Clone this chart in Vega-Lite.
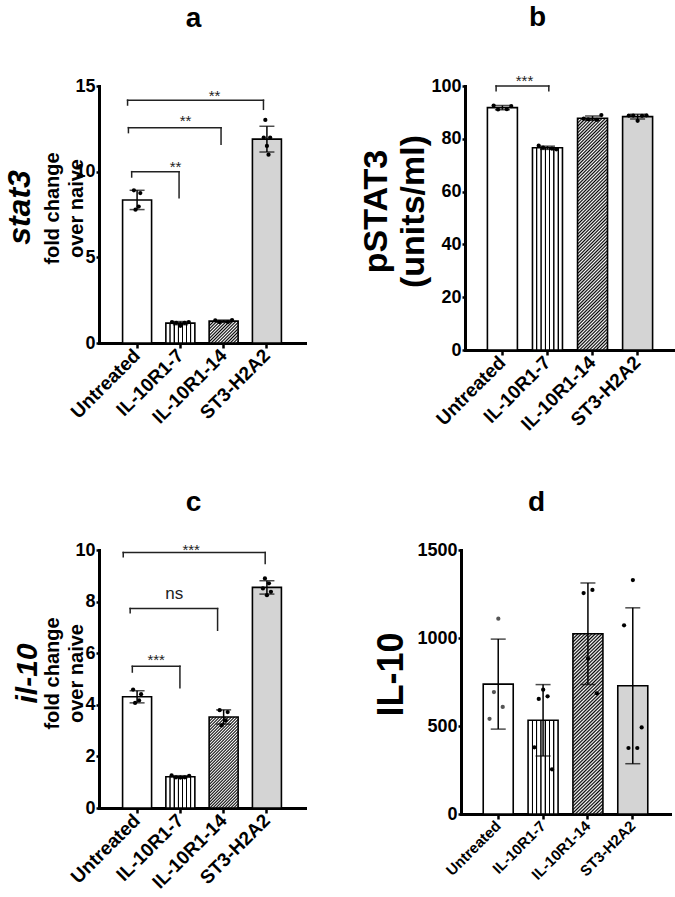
{
"$schema":"https://vega.github.io/schema/vega-lite/v6.json",
"background":"white",
"padding":{"left":3,"top":3,"right":5,"bottom":2},
"config":{
 "view":{"stroke":null},
 "font":"Liberation Sans",
 "axis":{"labelFont":"Liberation Sans","titleFont":"Liberation Sans","labelFontWeight":"bold","titleFontWeight":"bold","labelColor":"black","titleColor":"black","domainColor":"black","tickColor":"black","domainWidth":3,"tickWidth":2.5,"grid":false,"labelFontSize":18,"labelOverlap":false,"labelFlush":false,"domainCap":"square","labelPadding":3},
 "axisX":{"tickSize":5,"labelAngle":-45,"labelAlign":"right","labelBaseline":"middle","labelPadding":4},
 "axisY":{"tickSize":3,"labelPadding":1}
},
"datasets":{
 "a":[
  {"g":"Untreated","rep":1,"v":8.91},{"g":"Untreated","rep":2,"v":7.78},{"g":"Untreated","rep":4,"v":7.96},{"g":"Untreated","rep":5,"v":8.75},
  {"g":"IL-10R1-7","rep":1,"v":1.22},{"g":"IL-10R1-7","rep":2,"v":1.18},{"g":"IL-10R1-7","rep":3,"v":1.0},{"g":"IL-10R1-7","rep":4,"v":1.18},{"g":"IL-10R1-7","rep":5,"v":1.22},
  {"g":"IL-10R1-14","rep":1,"v":1.32},{"g":"IL-10R1-14","rep":2,"v":1.22},{"g":"IL-10R1-14","rep":4,"v":1.22},{"g":"IL-10R1-14","rep":5,"v":1.34},
  {"g":"ST3-H2A2","rep":1,"v":11.99},{"g":"ST3-H2A2","rep":2,"v":13.02},{"g":"ST3-H2A2","rep":3,"v":11.5},{"g":"ST3-H2A2","rep":4,"v":10.99},{"g":"ST3-H2A2","rep":5,"v":11.99}
 ],
 "b":[
  {"g":"Untreated","rep":1,"v":92.6},{"g":"Untreated","rep":2,"v":91.1},{"g":"Untreated","rep":4,"v":91.2},{"g":"Untreated","rep":5,"v":92.4},
  {"g":"IL-10R1-7","rep":1,"v":77.4},{"g":"IL-10R1-7","rep":2,"v":76.7},{"g":"IL-10R1-7","rep":4,"v":76.3},{"g":"IL-10R1-7","rep":5,"v":76.0},
  {"g":"IL-10R1-14","rep":1,"v":87.6},{"g":"IL-10R1-14","rep":2,"v":87.4},{"g":"IL-10R1-14","rep":4,"v":87.2},{"g":"IL-10R1-14","rep":5,"v":89.0},
  {"g":"ST3-H2A2","rep":1,"v":88.8},{"g":"ST3-H2A2","rep":2,"v":88.8},{"g":"ST3-H2A2","rep":3,"v":86.8},{"g":"ST3-H2A2","rep":4,"v":88.7},{"g":"ST3-H2A2","rep":5,"v":88.9}
 ],
 "c":[
  {"g":"Untreated","rep":1,"v":4.59},{"g":"Untreated","rep":2,"v":4.07},{"g":"Untreated","rep":4,"v":4.17},{"g":"Untreated","rep":5,"v":4.41},
  {"g":"IL-10R1-7","rep":1,"v":1.26},{"g":"IL-10R1-7","rep":2,"v":1.19},{"g":"IL-10R1-7","rep":3,"v":1.18},{"g":"IL-10R1-7","rep":4,"v":1.19},{"g":"IL-10R1-7","rep":5,"v":1.25},
  {"g":"IL-10R1-14","rep":1,"v":3.79},{"g":"IL-10R1-14","rep":2,"v":3.2},{"g":"IL-10R1-14","rep":4,"v":3.4},{"g":"IL-10R1-14","rep":5,"v":3.72},
  {"g":"ST3-H2A2","rep":1,"v":8.51},{"g":"ST3-H2A2","rep":2,"v":8.9},{"g":"ST3-H2A2","rep":3,"v":8.25},{"g":"ST3-H2A2","rep":4,"v":8.71},{"g":"ST3-H2A2","rep":5,"v":8.38}
 ],
 "d":[
  {"g":"Untreated","rep":1,"v":541},{"g":"Untreated","rep":2,"v":693},{"g":"Untreated","rep":3,"v":1110},{"g":"Untreated","rep":4,"v":608},
  {"g":"IL-10R1-7","rep":1,"v":379},{"g":"IL-10R1-7","rep":2,"v":654},{"g":"IL-10R1-7","rep":3,"v":706},{"g":"IL-10R1-7","rep":4,"v":669},{"g":"IL-10R1-7","rep":5,"v":254},
  {"g":"IL-10R1-14","rep":2,"v":1255},{"g":"IL-10R1-14","rep":3,"v":883},{"g":"IL-10R1-14","rep":4,"v":1273},{"g":"IL-10R1-14","rep":5,"v":686},
  {"g":"ST3-H2A2","rep":1,"v":1072},{"g":"ST3-H2A2","rep":2,"v":375},{"g":"ST3-H2A2","rep":3,"v":1329},{"g":"ST3-H2A2","rep":4,"v":375},{"g":"ST3-H2A2","rep":5,"v":492}
 ],
 "ba":[
  {"x1":0.875,"x2":1.97,"y":10.0,"yl1":9.69,"yl2":8.48,"label":"**","lx":1.89,"ly":9.99},
  {"x1":0.8,"x2":2.94,"y":12.57,"yl1":12.28,"yl2":11.6,"label":"**","lx":2.12,"ly":12.69},
  {"x1":0.78,"x2":3.92,"y":14.17,"yl1":13.89,"yl2":13.64,"label":"**","lx":2.79,"ly":14.1}
 ],
 "bb":[
  {"x1":0.86,"x2":2.03,"y":100,"yl1":98.2,"yl2":98.2,"label":"***","lx":1.49,"ly":100.0}
 ],
 "bc":[
  {"x1":0.89,"x2":1.99,"y":5.49,"yl1":5.27,"yl2":4.66,"label":"***","lx":1.44,"ly":5.54},
  {"x1":0.84,"x2":2.86,"y":7.73,"yl1":7.57,"yl2":6.89,"label":"ns","lx":1.86,"ly":8.1},
  {"x1":0.68,"x2":3.96,"y":9.9,"yl1":9.74,"yl2":9.48,"label":"***","lx":2.25,"ly":9.79}
 ]
},
"vconcat":[
{"hconcat":[
{
 "width":206,"height":257,
 "layer":[
  {"data":{"name":"a"},
   "layer":[
    {"mark":{"type":"bar","stroke":"black","strokeWidth":1.6,"width":29},
     "encoding":{
      "x":{"field":"g","type":"nominal","sort":null,"scale":{"type":"band","domain":["Untreated","IL-10R1-7","IL-10R1-14","ST3-H2A2"],"paddingInner":0.34,"paddingOuter":0.55},"axis":{"title":null,"labelFontSize":19}},
      "y":{"aggregate":"mean","field":"v","type":"quantitative","scale":{"domain":[0,15],"nice":false},"axis":{"title":["fold change","over naive"],"titleFontSize":20,"titleLineHeight":24,"titlePadding":-12,"titleY":122,"values":[0,5,10,15]}},
      "fill":{"condition":[
        {"test":"datum.g === 'Untreated'","value":"#ffffff"},
        {"test":"datum.g === 'IL-10R1-7'","value":{"gradient":"linear","x1":0,"y1":0,"x2":1,"y2":0,"stops":[{"offset":0.113,"color":"#fff"},{"offset":0.131,"color":"#000"},{"offset":0.155,"color":"#000"},{"offset":0.173,"color":"#fff"},{"offset":0.256,"color":"#fff"},{"offset":0.274,"color":"#000"},{"offset":0.298,"color":"#000"},{"offset":0.316,"color":"#fff"},{"offset":0.399,"color":"#fff"},{"offset":0.417,"color":"#000"},{"offset":0.441,"color":"#000"},{"offset":0.459,"color":"#fff"},{"offset":0.541,"color":"#fff"},{"offset":0.559,"color":"#000"},{"offset":0.583,"color":"#000"},{"offset":0.601,"color":"#fff"},{"offset":0.684,"color":"#fff"},{"offset":0.702,"color":"#000"},{"offset":0.726,"color":"#000"},{"offset":0.744,"color":"#fff"},{"offset":0.827,"color":"#fff"},{"offset":0.845,"color":"#000"},{"offset":0.869,"color":"#000"},{"offset":0.887,"color":"#fff"}]}},
        {"test":"datum.g === 'IL-10R1-14'","value":{"gradient":"linear","x1":0,"y1":0,"x2":1.119,"y2":0.843,"stops":[{"offset":0,"color":"#fff"},{"offset":0.03125,"color":"#000"},{"offset":0.0625,"color":"#fff"},{"offset":0.09375,"color":"#000"},{"offset":0.125,"color":"#fff"},{"offset":0.15625,"color":"#000"},{"offset":0.1875,"color":"#fff"},{"offset":0.21875,"color":"#000"},{"offset":0.25,"color":"#fff"},{"offset":0.28125,"color":"#000"},{"offset":0.3125,"color":"#fff"},{"offset":0.34375,"color":"#000"},{"offset":0.375,"color":"#fff"},{"offset":0.40625,"color":"#000"},{"offset":0.4375,"color":"#fff"},{"offset":0.46875,"color":"#000"},{"offset":0.5,"color":"#fff"},{"offset":0.53125,"color":"#000"},{"offset":0.5625,"color":"#fff"},{"offset":0.59375,"color":"#000"},{"offset":0.625,"color":"#fff"},{"offset":0.65625,"color":"#000"},{"offset":0.6875,"color":"#fff"},{"offset":0.71875,"color":"#000"},{"offset":0.75,"color":"#fff"},{"offset":0.78125,"color":"#000"},{"offset":0.8125,"color":"#fff"},{"offset":0.84375,"color":"#000"},{"offset":0.875,"color":"#fff"},{"offset":0.90625,"color":"#000"},{"offset":0.9375,"color":"#fff"},{"offset":0.96875,"color":"#000"},{"offset":1,"color":"#fff"}]}}
       ],"value":"#d4d4d4"}
     }},
    {"mark":{"type":"errorbar","extent":"stdev","ticks":true,"size":15,"thickness":1.5,"color":"black"},
     "encoding":{
      "x":{"field":"g","type":"nominal","sort":null,"scale":{"type":"band","domain":["Untreated","IL-10R1-7","IL-10R1-14","ST3-H2A2"],"paddingInner":0.34,"paddingOuter":0.55}},
      "y":{"field":"v","type":"quantitative","scale":{"domain":[0,15],"nice":false},"axis":{"title":["fold change","over naive"]}}}},
    {"transform":[{"filter":{"field":"g","oneOf":["IL-10R1-7","IL-10R1-14"]}}],
     "mark":{"type":"circle","size":18,"color":"black","opacity":1},
     "encoding":{
      "x":{"field":"g","type":"nominal","sort":null,"scale":{"type":"band","domain":["Untreated","IL-10R1-7","IL-10R1-14","ST3-H2A2"],"paddingInner":0.34,"paddingOuter":0.55}},
      "xOffset":{"field":"rep","type":"ordinal","scale":{"type":"point","domain":[1,2,3,4,5],"range":[3.8,24.8]}},
      "y":{"field":"v","type":"quantitative","scale":{"domain":[0,15],"nice":false},"axis":{"title":["fold change","over naive"]}}}},
    {"transform":[{"filter":{"field":"g","oneOf":["Untreated","ST3-H2A2"]}}],
     "mark":{"type":"circle","size":18,"color":"black","opacity":1},
     "encoding":{
      "x":{"field":"g","type":"nominal","sort":null,"scale":{"type":"band","domain":["Untreated","IL-10R1-7","IL-10R1-14","ST3-H2A2"],"paddingInner":0.34,"paddingOuter":0.55}},
      "xOffset":{"field":"rep","type":"ordinal","scale":{"type":"point","domain":[1,2,3,4,5],"range":[10.3,18.3]}},
      "y":{"field":"v","type":"quantitative","scale":{"domain":[0,15],"nice":false},"axis":{"title":["fold change","over naive"]}}}}
   ],
   "resolve":{"scale":{"xOffset":"independent"}}
  },
  {"data":{"name":"ba"},
   "layer":[
    {"mark":{"type":"rule","strokeWidth":1.5,"color":"#222","strokeCap":"square"},
     "encoding":{
      "x":{"field":"x1","type":"quantitative","scale":{"domain":[0.12,4.88],"nice":false,"zero":false},"axis":{"orient":"top","title":"a","titleFontSize":28,"titleBaseline":"alphabetic","titleAlign":"center","titleX":94,"titlePadding":60,"labels":false,"ticks":false,"domain":false}},
      "x2":{"field":"x2"},
      "y":{"field":"y","type":"quantitative","scale":{"domain":[0,15],"nice":false},"axis":{"orient":"left","title":"stat3","titleFontSize":32,"titleFontStyle":"italic","labels":false,"ticks":false,"domain":false,"titlePadding":63,"titleY":121}}}},
    {"mark":{"type":"rule","strokeWidth":1.5,"color":"#222","strokeCap":"square"},
     "encoding":{
      "x":{"field":"x1","type":"quantitative","scale":{"domain":[0.12,4.88],"nice":false,"zero":false}},
      "y":{"field":"y","type":"quantitative","scale":{"domain":[0,15],"nice":false}},
      "y2":{"field":"yl1"}}},
    {"mark":{"type":"rule","strokeWidth":1.5,"color":"#222","strokeCap":"square"},
     "encoding":{
      "x":{"field":"x2","type":"quantitative","scale":{"domain":[0.12,4.88],"nice":false,"zero":false}},
      "y":{"field":"y","type":"quantitative","scale":{"domain":[0,15],"nice":false}},
      "y2":{"field":"yl2"}}},
    {"mark":{"type":"text","fontSize":15,"baseline":"alphabetic","color":"#222"},
     "encoding":{
      "x":{"field":"lx","type":"quantitative","scale":{"domain":[0.12,4.88],"nice":false,"zero":false}},
      "y":{"field":"ly","type":"quantitative","scale":{"domain":[0,15],"nice":false}},
      "text":{"field":"label"}}}
   ]
  }
 ],
 "resolve":{"scale":{"x":"independent"},"axis":{"y":"independent"}}
},
{
 "width":210,"height":264,
 "layer":[
  {"data":{"name":"b"},
   "layer":[
    {"mark":{"type":"bar","stroke":"black","strokeWidth":1.6,"width":30},
     "encoding":{
      "x":{"field":"g","type":"nominal","sort":null,"scale":{"type":"band","domain":["Untreated","IL-10R1-7","IL-10R1-14","ST3-H2A2"],"paddingInner":0.34,"paddingOuter":0.5},"axis":{"title":null,"labelFontSize":19}},
      "y":{"aggregate":"mean","field":"v","type":"quantitative","scale":{"domain":[0,100],"nice":false},"axis":{"title":["pSTAT3","(units/ml)"],"titleFontSize":34,"titleLineHeight":37,"titlePadding":0,"titleY":125,"values":[0,20,40,60,80,100]}},
      "fill":{"condition":[
        {"test":"datum.g === 'Untreated'","value":"#ffffff"},
        {"test":"datum.g === 'IL-10R1-7'","value":{"gradient":"linear","x1":0,"y1":0,"x2":1,"y2":0,"stops":[{"offset":0.113,"color":"#fff"},{"offset":0.131,"color":"#000"},{"offset":0.155,"color":"#000"},{"offset":0.173,"color":"#fff"},{"offset":0.256,"color":"#fff"},{"offset":0.274,"color":"#000"},{"offset":0.298,"color":"#000"},{"offset":0.316,"color":"#fff"},{"offset":0.399,"color":"#fff"},{"offset":0.417,"color":"#000"},{"offset":0.441,"color":"#000"},{"offset":0.459,"color":"#fff"},{"offset":0.541,"color":"#fff"},{"offset":0.559,"color":"#000"},{"offset":0.583,"color":"#000"},{"offset":0.601,"color":"#fff"},{"offset":0.684,"color":"#fff"},{"offset":0.702,"color":"#000"},{"offset":0.726,"color":"#000"},{"offset":0.744,"color":"#fff"},{"offset":0.827,"color":"#fff"},{"offset":0.845,"color":"#000"},{"offset":0.869,"color":"#000"},{"offset":0.887,"color":"#fff"}]}},
        {"test":"datum.g === 'IL-10R1-14'","value":{"gradient":"linear","x1":0,"y1":0,"x2":0.1424,"y2":1.11,"stops":[
{"offset":0,"color":"#fff"},{"offset":0.00625,"color":"#000"},{"offset":0.0125,"color":"#fff"},{"offset":0.01875,"color":"#000"},{"offset":0.025,"color":"#fff"},{"offset":0.03125,"color":"#000"},{"offset":0.0375,"color":"#fff"},{"offset":0.04375,"color":"#000"},{"offset":0.05,"color":"#fff"},{"offset":0.05625,"color":"#000"},{"offset":0.0625,"color":"#fff"},{"offset":0.06875,"color":"#000"},{"offset":0.075,"color":"#fff"},{"offset":0.08125,"color":"#000"},{"offset":0.0875,"color":"#fff"},{"offset":0.09375,"color":"#000"},
{"offset":0.1,"color":"#fff"},{"offset":0.10625,"color":"#000"},{"offset":0.1125,"color":"#fff"},{"offset":0.11875,"color":"#000"},{"offset":0.125,"color":"#fff"},{"offset":0.13125,"color":"#000"},{"offset":0.1375,"color":"#fff"},{"offset":0.14375,"color":"#000"},{"offset":0.15,"color":"#fff"},{"offset":0.15625,"color":"#000"},{"offset":0.1625,"color":"#fff"},{"offset":0.16875,"color":"#000"},{"offset":0.175,"color":"#fff"},{"offset":0.18125,"color":"#000"},{"offset":0.1875,"color":"#fff"},{"offset":0.19375,"color":"#000"},
{"offset":0.2,"color":"#fff"},{"offset":0.20625,"color":"#000"},{"offset":0.2125,"color":"#fff"},{"offset":0.21875,"color":"#000"},{"offset":0.225,"color":"#fff"},{"offset":0.23125,"color":"#000"},{"offset":0.2375,"color":"#fff"},{"offset":0.24375,"color":"#000"},{"offset":0.25,"color":"#fff"},{"offset":0.25625,"color":"#000"},{"offset":0.2625,"color":"#fff"},{"offset":0.26875,"color":"#000"},{"offset":0.275,"color":"#fff"},{"offset":0.28125,"color":"#000"},{"offset":0.2875,"color":"#fff"},{"offset":0.29375,"color":"#000"},
{"offset":0.3,"color":"#fff"},{"offset":0.30625,"color":"#000"},{"offset":0.3125,"color":"#fff"},{"offset":0.31875,"color":"#000"},{"offset":0.325,"color":"#fff"},{"offset":0.33125,"color":"#000"},{"offset":0.3375,"color":"#fff"},{"offset":0.34375,"color":"#000"},{"offset":0.35,"color":"#fff"},{"offset":0.35625,"color":"#000"},{"offset":0.3625,"color":"#fff"},{"offset":0.36875,"color":"#000"},{"offset":0.375,"color":"#fff"},{"offset":0.38125,"color":"#000"},{"offset":0.3875,"color":"#fff"},{"offset":0.39375,"color":"#000"},
{"offset":0.4,"color":"#fff"},{"offset":0.40625,"color":"#000"},{"offset":0.4125,"color":"#fff"},{"offset":0.41875,"color":"#000"},{"offset":0.425,"color":"#fff"},{"offset":0.43125,"color":"#000"},{"offset":0.4375,"color":"#fff"},{"offset":0.44375,"color":"#000"},{"offset":0.45,"color":"#fff"},{"offset":0.45625,"color":"#000"},{"offset":0.4625,"color":"#fff"},{"offset":0.46875,"color":"#000"},{"offset":0.475,"color":"#fff"},{"offset":0.48125,"color":"#000"},{"offset":0.4875,"color":"#fff"},{"offset":0.49375,"color":"#000"},
{"offset":0.5,"color":"#fff"},{"offset":0.50625,"color":"#000"},{"offset":0.5125,"color":"#fff"},{"offset":0.51875,"color":"#000"},{"offset":0.525,"color":"#fff"},{"offset":0.53125,"color":"#000"},{"offset":0.5375,"color":"#fff"},{"offset":0.54375,"color":"#000"},{"offset":0.55,"color":"#fff"},{"offset":0.55625,"color":"#000"},{"offset":0.5625,"color":"#fff"},{"offset":0.56875,"color":"#000"},{"offset":0.575,"color":"#fff"},{"offset":0.58125,"color":"#000"},{"offset":0.5875,"color":"#fff"},{"offset":0.59375,"color":"#000"},
{"offset":0.6,"color":"#fff"},{"offset":0.60625,"color":"#000"},{"offset":0.6125,"color":"#fff"},{"offset":0.61875,"color":"#000"},{"offset":0.625,"color":"#fff"},{"offset":0.63125,"color":"#000"},{"offset":0.6375,"color":"#fff"},{"offset":0.64375,"color":"#000"},{"offset":0.65,"color":"#fff"},{"offset":0.65625,"color":"#000"},{"offset":0.6625,"color":"#fff"},{"offset":0.66875,"color":"#000"},{"offset":0.675,"color":"#fff"},{"offset":0.68125,"color":"#000"},{"offset":0.6875,"color":"#fff"},{"offset":0.69375,"color":"#000"},
{"offset":0.7,"color":"#fff"},{"offset":0.70625,"color":"#000"},{"offset":0.7125,"color":"#fff"},{"offset":0.71875,"color":"#000"},{"offset":0.725,"color":"#fff"},{"offset":0.73125,"color":"#000"},{"offset":0.7375,"color":"#fff"},{"offset":0.74375,"color":"#000"},{"offset":0.75,"color":"#fff"},{"offset":0.75625,"color":"#000"},{"offset":0.7625,"color":"#fff"},{"offset":0.76875,"color":"#000"},{"offset":0.775,"color":"#fff"},{"offset":0.78125,"color":"#000"},{"offset":0.7875,"color":"#fff"},{"offset":0.79375,"color":"#000"},
{"offset":0.8,"color":"#fff"},{"offset":0.80625,"color":"#000"},{"offset":0.8125,"color":"#fff"},{"offset":0.81875,"color":"#000"},{"offset":0.825,"color":"#fff"},{"offset":0.83125,"color":"#000"},{"offset":0.8375,"color":"#fff"},{"offset":0.84375,"color":"#000"},{"offset":0.85,"color":"#fff"},{"offset":0.85625,"color":"#000"},{"offset":0.8625,"color":"#fff"},{"offset":0.86875,"color":"#000"},{"offset":0.875,"color":"#fff"},{"offset":0.88125,"color":"#000"},{"offset":0.8875,"color":"#fff"},{"offset":0.89375,"color":"#000"},
{"offset":0.9,"color":"#fff"},{"offset":0.90625,"color":"#000"},{"offset":0.9125,"color":"#fff"},{"offset":0.91875,"color":"#000"},{"offset":0.925,"color":"#fff"},{"offset":0.93125,"color":"#000"},{"offset":0.9375,"color":"#fff"},{"offset":0.94375,"color":"#000"},{"offset":0.95,"color":"#fff"},{"offset":0.95625,"color":"#000"},{"offset":0.9625,"color":"#fff"},{"offset":0.96875,"color":"#000"},{"offset":0.975,"color":"#fff"},{"offset":0.98125,"color":"#000"},{"offset":0.9875,"color":"#fff"},{"offset":0.99375,"color":"#000"},
{"offset":1,"color":"#fff"}]}}
       ],"value":"#d4d4d4"}
     }},
    {"mark":{"type":"errorbar","extent":"stdev","ticks":true,"size":15,"thickness":1.5,"color":"black"},
     "encoding":{
      "x":{"field":"g","type":"nominal","sort":null,"scale":{"type":"band","domain":["Untreated","IL-10R1-7","IL-10R1-14","ST3-H2A2"],"paddingInner":0.34,"paddingOuter":0.5}},
      "y":{"field":"v","type":"quantitative","scale":{"domain":[0,100],"nice":false},"axis":{"title":["pSTAT3","(units/ml)"]}}}},
    {"mark":{"type":"circle","size":18,"color":"black","opacity":1},
     "encoding":{
      "x":{"field":"g","type":"nominal","sort":null,"scale":{"type":"band","domain":["Untreated","IL-10R1-7","IL-10R1-14","ST3-H2A2"],"paddingInner":0.34,"paddingOuter":0.5}},
      "xOffset":{"field":"rep","type":"ordinal","scale":{"type":"point","domain":[1,2,3,4,5],"range":[3.9,25.9]}},
      "y":{"field":"v","type":"quantitative","scale":{"domain":[0,100],"nice":false},"axis":{"title":["pSTAT3","(units/ml)"]}}}}
   ]
  },
  {"data":{"name":"bb"},
   "layer":[
    {"mark":{"type":"rule","strokeWidth":1.5,"color":"#222","strokeCap":"square"},
     "encoding":{
      "x":{"field":"x1","type":"quantitative","scale":{"domain":[0.17,4.83],"nice":false,"zero":false},"axis":{"orient":"top","title":"b","titleFontSize":28,"titleBaseline":"alphabetic","titleAlign":"center","titleX":72,"titlePadding":61,"labels":false,"ticks":false,"domain":false}},
      "x2":{"field":"x2"},
      "y":{"field":"y","type":"quantitative","scale":{"domain":[0,100],"nice":false},"axis":{"title":["pSTAT3","(units/ml)"]}}}},
    {"mark":{"type":"rule","strokeWidth":1.5,"color":"#222","strokeCap":"square"},
     "encoding":{
      "x":{"field":"x1","type":"quantitative","scale":{"domain":[0.17,4.83],"nice":false,"zero":false}},
      "y":{"field":"y","type":"quantitative","scale":{"domain":[0,100],"nice":false},"axis":{"title":["pSTAT3","(units/ml)"]}},
      "y2":{"field":"yl1"}}},
    {"mark":{"type":"rule","strokeWidth":1.5,"color":"#222","strokeCap":"square"},
     "encoding":{
      "x":{"field":"x2","type":"quantitative","scale":{"domain":[0.17,4.83],"nice":false,"zero":false}},
      "y":{"field":"y","type":"quantitative","scale":{"domain":[0,100],"nice":false},"axis":{"title":["pSTAT3","(units/ml)"]}},
      "y2":{"field":"yl2"}}},
    {"mark":{"type":"text","fontSize":15,"baseline":"alphabetic","color":"#222"},
     "encoding":{
      "x":{"field":"lx","type":"quantitative","scale":{"domain":[0.17,4.83],"nice":false,"zero":false}},
      "y":{"field":"ly","type":"quantitative","scale":{"domain":[0,100],"nice":false},"axis":{"title":["pSTAT3","(units/ml)"]}},
      "text":{"field":"label"}}}
   ]
  }
 ],
 "resolve":{"scale":{"x":"independent"}}
}
],"spacing":54},
{"hconcat":[
{
 "width":206,"height":258,
 "layer":[
  {"data":{"name":"c"},
   "layer":[
    {"mark":{"type":"bar","stroke":"black","strokeWidth":1.6,"width":29},
     "encoding":{
      "x":{"field":"g","type":"nominal","sort":null,"scale":{"type":"band","domain":["Untreated","IL-10R1-7","IL-10R1-14","ST3-H2A2"],"paddingInner":0.34,"paddingOuter":0.55},"axis":{"title":null,"labelFontSize":19}},
      "y":{"aggregate":"mean","field":"v","type":"quantitative","scale":{"domain":[0,10],"nice":false},"axis":{"title":["fold change","over naive"],"titleFontSize":20,"titleLineHeight":24,"titlePadding":-12,"titleY":123,"values":[0,2,4,6,8,10]}},
      "fill":{"condition":[
        {"test":"datum.g === 'Untreated'","value":"#ffffff"},
        {"test":"datum.g === 'IL-10R1-7'","value":{"gradient":"linear","x1":0,"y1":0,"x2":1,"y2":0,"stops":[{"offset":0.113,"color":"#fff"},{"offset":0.131,"color":"#000"},{"offset":0.155,"color":"#000"},{"offset":0.173,"color":"#fff"},{"offset":0.256,"color":"#fff"},{"offset":0.274,"color":"#000"},{"offset":0.298,"color":"#000"},{"offset":0.316,"color":"#fff"},{"offset":0.399,"color":"#fff"},{"offset":0.417,"color":"#000"},{"offset":0.441,"color":"#000"},{"offset":0.459,"color":"#fff"},{"offset":0.541,"color":"#fff"},{"offset":0.559,"color":"#000"},{"offset":0.583,"color":"#000"},{"offset":0.601,"color":"#fff"},{"offset":0.684,"color":"#fff"},{"offset":0.702,"color":"#000"},{"offset":0.726,"color":"#000"},{"offset":0.744,"color":"#fff"},{"offset":0.827,"color":"#fff"},{"offset":0.845,"color":"#000"},{"offset":0.869,"color":"#000"},{"offset":0.887,"color":"#fff"}]}},
        {"test":"datum.g === 'IL-10R1-14'","value":{"gradient":"linear","x1":0,"y1":0,"x2":0.384,"y2":1.198,"stops":[
{"offset":0,"color":"#fff"},{"offset":0.0125,"color":"#000"},{"offset":0.025,"color":"#fff"},{"offset":0.0375,"color":"#000"},{"offset":0.05,"color":"#fff"},{"offset":0.0625,"color":"#000"},{"offset":0.075,"color":"#fff"},{"offset":0.0875,"color":"#000"},
{"offset":0.1,"color":"#fff"},{"offset":0.1125,"color":"#000"},{"offset":0.125,"color":"#fff"},{"offset":0.1375,"color":"#000"},{"offset":0.15,"color":"#fff"},{"offset":0.1625,"color":"#000"},{"offset":0.175,"color":"#fff"},{"offset":0.1875,"color":"#000"},
{"offset":0.2,"color":"#fff"},{"offset":0.2125,"color":"#000"},{"offset":0.225,"color":"#fff"},{"offset":0.2375,"color":"#000"},{"offset":0.25,"color":"#fff"},{"offset":0.2625,"color":"#000"},{"offset":0.275,"color":"#fff"},{"offset":0.2875,"color":"#000"},
{"offset":0.3,"color":"#fff"},{"offset":0.3125,"color":"#000"},{"offset":0.325,"color":"#fff"},{"offset":0.3375,"color":"#000"},{"offset":0.35,"color":"#fff"},{"offset":0.3625,"color":"#000"},{"offset":0.375,"color":"#fff"},{"offset":0.3875,"color":"#000"},
{"offset":0.4,"color":"#fff"},{"offset":0.4125,"color":"#000"},{"offset":0.425,"color":"#fff"},{"offset":0.4375,"color":"#000"},{"offset":0.45,"color":"#fff"},{"offset":0.4625,"color":"#000"},{"offset":0.475,"color":"#fff"},{"offset":0.4875,"color":"#000"},
{"offset":0.5,"color":"#fff"},{"offset":0.5125,"color":"#000"},{"offset":0.525,"color":"#fff"},{"offset":0.5375,"color":"#000"},{"offset":0.55,"color":"#fff"},{"offset":0.5625,"color":"#000"},{"offset":0.575,"color":"#fff"},{"offset":0.5875,"color":"#000"},
{"offset":0.6,"color":"#fff"},{"offset":0.6125,"color":"#000"},{"offset":0.625,"color":"#fff"},{"offset":0.6375,"color":"#000"},{"offset":0.65,"color":"#fff"},{"offset":0.6625,"color":"#000"},{"offset":0.675,"color":"#fff"},{"offset":0.6875,"color":"#000"},
{"offset":0.7,"color":"#fff"},{"offset":0.7125,"color":"#000"},{"offset":0.725,"color":"#fff"},{"offset":0.7375,"color":"#000"},{"offset":0.75,"color":"#fff"},{"offset":0.7625,"color":"#000"},{"offset":0.775,"color":"#fff"},{"offset":0.7875,"color":"#000"},
{"offset":0.8,"color":"#fff"},{"offset":0.8125,"color":"#000"},{"offset":0.825,"color":"#fff"},{"offset":0.8375,"color":"#000"},{"offset":0.85,"color":"#fff"},{"offset":0.8625,"color":"#000"},{"offset":0.875,"color":"#fff"},{"offset":0.8875,"color":"#000"},
{"offset":0.9,"color":"#fff"},{"offset":0.9125,"color":"#000"},{"offset":0.925,"color":"#fff"},{"offset":0.9375,"color":"#000"},{"offset":0.95,"color":"#fff"},{"offset":0.9625,"color":"#000"},{"offset":0.975,"color":"#fff"},{"offset":0.9875,"color":"#000"},
{"offset":1,"color":"#fff"}]}}
       ],"value":"#d4d4d4"}
     }},
    {"mark":{"type":"errorbar","extent":"stdev","ticks":true,"size":15,"thickness":1.5,"color":"black"},
     "encoding":{
      "x":{"field":"g","type":"nominal","sort":null,"scale":{"type":"band","domain":["Untreated","IL-10R1-7","IL-10R1-14","ST3-H2A2"],"paddingInner":0.34,"paddingOuter":0.55}},
      "y":{"field":"v","type":"quantitative","scale":{"domain":[0,10],"nice":false},"axis":{"title":["fold change","over naive"]}}}},
    {"transform":[{"filter":{"field":"g","oneOf":["IL-10R1-7"]}}],
     "mark":{"type":"circle","size":18,"color":"black","opacity":1},
     "encoding":{
      "x":{"field":"g","type":"nominal","sort":null,"scale":{"type":"band","domain":["Untreated","IL-10R1-7","IL-10R1-14","ST3-H2A2"],"paddingInner":0.34,"paddingOuter":0.55}},
      "xOffset":{"field":"rep","type":"ordinal","scale":{"type":"point","domain":[1,2,3,4,5],"range":[3.3,25.3]}},
      "y":{"field":"v","type":"quantitative","scale":{"domain":[0,10],"nice":false},"axis":{"title":["fold change","over naive"]}}}},
    {"transform":[{"filter":{"field":"g","oneOf":["Untreated","IL-10R1-14","ST3-H2A2"]}}],
     "mark":{"type":"circle","size":18,"color":"black","opacity":1},
     "encoding":{
      "x":{"field":"g","type":"nominal","sort":null,"scale":{"type":"band","domain":["Untreated","IL-10R1-7","IL-10R1-14","ST3-H2A2"],"paddingInner":0.34,"paddingOuter":0.55}},
      "xOffset":{"field":"rep","type":"ordinal","scale":{"type":"point","domain":[1,2,3,4,5],"range":[9.3,19.3]}},
      "y":{"field":"v","type":"quantitative","scale":{"domain":[0,10],"nice":false},"axis":{"title":["fold change","over naive"]}}}}
   ],
   "resolve":{"scale":{"xOffset":"independent"}}
  },
  {"data":{"name":"bc"},
   "layer":[
    {"mark":{"type":"rule","strokeWidth":1.5,"color":"#222","strokeCap":"square"},
     "encoding":{
      "x":{"field":"x1","type":"quantitative","scale":{"domain":[0.12,4.88],"nice":false,"zero":false},"axis":{"orient":"top","title":"c","titleFontSize":28,"titleBaseline":"alphabetic","titleAlign":"center","titleX":94,"titlePadding":40,"labels":false,"ticks":false,"domain":false}},
      "x2":{"field":"x2"},
      "y":{"field":"y","type":"quantitative","scale":{"domain":[0,10],"nice":false},"axis":{"orient":"left","title":"il-10","titleFontSize":30,"titleFontStyle":"italic","labels":false,"ticks":false,"domain":false,"titlePadding":57,"titleY":123}}}},
    {"mark":{"type":"rule","strokeWidth":1.5,"color":"#222","strokeCap":"square"},
     "encoding":{
      "x":{"field":"x1","type":"quantitative","scale":{"domain":[0.12,4.88],"nice":false,"zero":false}},
      "y":{"field":"y","type":"quantitative","scale":{"domain":[0,10],"nice":false}},
      "y2":{"field":"yl1"}}},
    {"mark":{"type":"rule","strokeWidth":1.5,"color":"#222","strokeCap":"square"},
     "encoding":{
      "x":{"field":"x2","type":"quantitative","scale":{"domain":[0.12,4.88],"nice":false,"zero":false}},
      "y":{"field":"y","type":"quantitative","scale":{"domain":[0,10],"nice":false}},
      "y2":{"field":"yl2"}}},
    {"mark":{"type":"text","baseline":"alphabetic","color":"#222"},
     "encoding":{
      "x":{"field":"lx","type":"quantitative","scale":{"domain":[0.12,4.88],"nice":false,"zero":false}},
      "y":{"field":"ly","type":"quantitative","scale":{"domain":[0,10],"nice":false}},
      "text":{"field":"label"},
      "size":{"condition":{"test":"datum.label === 'ns'","value":17},"value":15}}}
   ]
  }
 ],
 "resolve":{"scale":{"x":"independent"},"axis":{"y":"independent"}}
},
{
 "width":209,"height":264,
 "data":{"name":"d"},
 "layer":[
    {"mark":{"type":"bar","stroke":"black","strokeWidth":1.6,"width":30},
     "encoding":{
      "x":{"field":"g","type":"nominal","sort":null,"scale":{"type":"band","domain":["Untreated","IL-10R1-7","IL-10R1-14","ST3-H2A2"],"paddingInner":0.34,"paddingOuter":0.5},"axis":{"orient":"bottom","title":null,"labelFontSize":15}},
      "y":{"aggregate":"mean","field":"v","type":"quantitative","scale":{"domain":[0,1500],"nice":false},"axis":{"title":"IL-10","titleFontSize":36,"titlePadding":6,"titleY":124,"format":"d","values":[0,500,1000,1500]}},
      "fill":{"condition":[
        {"test":"datum.g === 'Untreated'","value":"#ffffff"},
        {"test":"datum.g === 'IL-10R1-7'","value":{"gradient":"linear","x1":0,"y1":0,"x2":1,"y2":0,"stops":[{"offset":0.113,"color":"#fff"},{"offset":0.131,"color":"#000"},{"offset":0.155,"color":"#000"},{"offset":0.173,"color":"#fff"},{"offset":0.256,"color":"#fff"},{"offset":0.274,"color":"#000"},{"offset":0.298,"color":"#000"},{"offset":0.316,"color":"#fff"},{"offset":0.399,"color":"#fff"},{"offset":0.417,"color":"#000"},{"offset":0.441,"color":"#000"},{"offset":0.459,"color":"#fff"},{"offset":0.541,"color":"#fff"},{"offset":0.559,"color":"#000"},{"offset":0.583,"color":"#000"},{"offset":0.601,"color":"#fff"},{"offset":0.684,"color":"#fff"},{"offset":0.702,"color":"#000"},{"offset":0.726,"color":"#000"},{"offset":0.744,"color":"#fff"},{"offset":0.827,"color":"#fff"},{"offset":0.845,"color":"#000"},{"offset":0.869,"color":"#000"},{"offset":0.887,"color":"#fff"}]}},
        {"test":"datum.g === 'IL-10R1-14'","value":{"gradient":"linear","x1":0,"y1":0,"x2":0.1824,"y2":1.132,"stops":[
{"offset":0,"color":"#fff"},{"offset":0.008,"color":"#000"},{"offset":0.016,"color":"#fff"},{"offset":0.024,"color":"#000"},{"offset":0.032,"color":"#fff"},{"offset":0.04,"color":"#000"},{"offset":0.048,"color":"#fff"},{"offset":0.056,"color":"#000"},{"offset":0.064,"color":"#fff"},{"offset":0.072,"color":"#000"},
{"offset":0.08,"color":"#fff"},{"offset":0.088,"color":"#000"},{"offset":0.096,"color":"#fff"},{"offset":0.104,"color":"#000"},{"offset":0.112,"color":"#fff"},{"offset":0.12,"color":"#000"},{"offset":0.128,"color":"#fff"},{"offset":0.136,"color":"#000"},{"offset":0.144,"color":"#fff"},{"offset":0.152,"color":"#000"},
{"offset":0.16,"color":"#fff"},{"offset":0.168,"color":"#000"},{"offset":0.176,"color":"#fff"},{"offset":0.184,"color":"#000"},{"offset":0.192,"color":"#fff"},{"offset":0.2,"color":"#000"},{"offset":0.208,"color":"#fff"},{"offset":0.216,"color":"#000"},{"offset":0.224,"color":"#fff"},{"offset":0.232,"color":"#000"},
{"offset":0.24,"color":"#fff"},{"offset":0.248,"color":"#000"},{"offset":0.256,"color":"#fff"},{"offset":0.264,"color":"#000"},{"offset":0.272,"color":"#fff"},{"offset":0.28,"color":"#000"},{"offset":0.288,"color":"#fff"},{"offset":0.296,"color":"#000"},{"offset":0.304,"color":"#fff"},{"offset":0.312,"color":"#000"},
{"offset":0.32,"color":"#fff"},{"offset":0.328,"color":"#000"},{"offset":0.336,"color":"#fff"},{"offset":0.344,"color":"#000"},{"offset":0.352,"color":"#fff"},{"offset":0.36,"color":"#000"},{"offset":0.368,"color":"#fff"},{"offset":0.376,"color":"#000"},{"offset":0.384,"color":"#fff"},{"offset":0.392,"color":"#000"},
{"offset":0.4,"color":"#fff"},{"offset":0.408,"color":"#000"},{"offset":0.416,"color":"#fff"},{"offset":0.424,"color":"#000"},{"offset":0.432,"color":"#fff"},{"offset":0.44,"color":"#000"},{"offset":0.448,"color":"#fff"},{"offset":0.456,"color":"#000"},{"offset":0.464,"color":"#fff"},{"offset":0.472,"color":"#000"},
{"offset":0.48,"color":"#fff"},{"offset":0.488,"color":"#000"},{"offset":0.496,"color":"#fff"},{"offset":0.504,"color":"#000"},{"offset":0.512,"color":"#fff"},{"offset":0.52,"color":"#000"},{"offset":0.528,"color":"#fff"},{"offset":0.536,"color":"#000"},{"offset":0.544,"color":"#fff"},{"offset":0.552,"color":"#000"},
{"offset":0.56,"color":"#fff"},{"offset":0.568,"color":"#000"},{"offset":0.576,"color":"#fff"},{"offset":0.584,"color":"#000"},{"offset":0.592,"color":"#fff"},{"offset":0.6,"color":"#000"},{"offset":0.608,"color":"#fff"},{"offset":0.616,"color":"#000"},{"offset":0.624,"color":"#fff"},{"offset":0.632,"color":"#000"},
{"offset":0.64,"color":"#fff"},{"offset":0.648,"color":"#000"},{"offset":0.656,"color":"#fff"},{"offset":0.664,"color":"#000"},{"offset":0.672,"color":"#fff"},{"offset":0.68,"color":"#000"},{"offset":0.688,"color":"#fff"},{"offset":0.696,"color":"#000"},{"offset":0.704,"color":"#fff"},{"offset":0.712,"color":"#000"},
{"offset":0.72,"color":"#fff"},{"offset":0.728,"color":"#000"},{"offset":0.736,"color":"#fff"},{"offset":0.744,"color":"#000"},{"offset":0.752,"color":"#fff"},{"offset":0.76,"color":"#000"},{"offset":0.768,"color":"#fff"},{"offset":0.776,"color":"#000"},{"offset":0.784,"color":"#fff"},{"offset":0.792,"color":"#000"},
{"offset":0.8,"color":"#fff"},{"offset":0.808,"color":"#000"},{"offset":0.816,"color":"#fff"},{"offset":0.824,"color":"#000"},{"offset":0.832,"color":"#fff"},{"offset":0.84,"color":"#000"},{"offset":0.848,"color":"#fff"},{"offset":0.856,"color":"#000"},{"offset":0.864,"color":"#fff"},{"offset":0.872,"color":"#000"},
{"offset":0.88,"color":"#fff"},{"offset":0.888,"color":"#000"},{"offset":0.896,"color":"#fff"},{"offset":0.904,"color":"#000"},{"offset":0.912,"color":"#fff"},{"offset":0.92,"color":"#000"},{"offset":0.928,"color":"#fff"},{"offset":0.936,"color":"#000"},{"offset":0.944,"color":"#fff"},{"offset":0.952,"color":"#000"},
{"offset":0.96,"color":"#fff"},{"offset":0.968,"color":"#000"},{"offset":0.976,"color":"#fff"},{"offset":0.984,"color":"#000"},{"offset":0.992,"color":"#fff"},{"offset":1,"color":"#000"}]}}
       ],"value":"#d4d4d4"}
     }},
    {"mark":{"type":"errorbar","extent":"stdev","ticks":true,"size":15,"thickness":1.5,"color":"black"},
     "encoding":{
      "x":{"field":"g","type":"nominal","sort":null,"scale":{"type":"band","domain":["Untreated","IL-10R1-7","IL-10R1-14","ST3-H2A2"],"paddingInner":0.34,"paddingOuter":0.5},"axis":{"orient":"top","title":"d","titleFontSize":28,"titleBaseline":"alphabetic","titleAlign":"center","titleX":75,"titlePadding":40,"labels":false,"ticks":false,"domain":false}},
      "y":{"field":"v","type":"quantitative","scale":{"domain":[0,1500],"nice":false},"axis":{"title":"IL-10"}}}},
    {"mark":{"type":"circle","size":18,"opacity":1},
     "encoding":{
      "x":{"field":"g","type":"nominal","sort":null,"scale":{"type":"band","domain":["Untreated","IL-10R1-7","IL-10R1-14","ST3-H2A2"],"paddingInner":0.34,"paddingOuter":0.5},"axis":null},
      "xOffset":{"field":"rep","type":"ordinal","scale":{"type":"point","domain":[1,2,3,4,5],"range":[9.8,19.8]}},
      "y":{"field":"v","type":"quantitative","scale":{"domain":[0,1500],"nice":false},"axis":{"title":"IL-10"}},
      "color":{"condition":{"test":"datum.g === 'Untreated'","value":"#555555"},"value":"#000000"}}}
 ],
 "resolve":{"axis":{"x":"independent"}}
}
],"spacing":68}
],
"spacing":53
}
